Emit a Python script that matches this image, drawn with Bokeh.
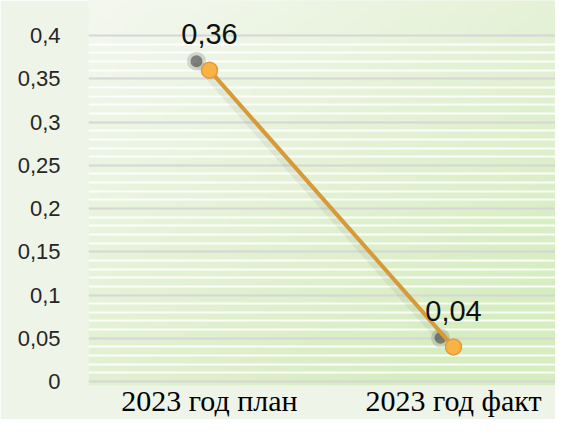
import numpy as np
from bokeh.plotting import figure
from bokeh.models import Range1d, FixedTicker, CustomJSTickFormatter, ColumnDataSource
from bokeh.core.properties import value
from bokeh.embed import file_html
from bokeh.resources import INLINE

# ---- data ----
categories = ["2023 год план", "2023 год факт"]
values = [0.36, 0.04]
y_ticks = [0.0, 0.05, 0.1, 0.15, 0.2, 0.25, 0.3, 0.35, 0.4]

xs = list(range(len(categories)))
labels = [("%g" % v).replace(".", ",") for v in values]
src = ColumnDataSource(dict(x=xs, y=values, lab=labels))

W, H = 555, 419
X0, X1 = -0.4959, 1.418
Y0, Y1 = -0.00464, 0.44058
p = figure(width=W, height=H, output_backend="svg", toolbar_location=None,
           x_range=Range1d(X0, X1), y_range=Range1d(Y0, Y1),
           min_border_left=88, min_border_right=0, min_border_top=0, min_border_bottom=20)
p.outline_line_color = None
p.border_fill_color = "#eef4e8"
p.background_fill_color = "#e8f2de"

# gradient background image over the frame
ny, nx = 60, 80
gx = np.linspace(0, 1, nx)[None, :]
gy = np.linspace(0, 1, ny)[:, None]  # 0 bottom, 1 top
t = np.clip(0.5 * gx + 0.6 * (1 - gy) + 0.05, 0, 1)
c0 = np.array([246, 248, 242])
c1 = np.array([214, 237, 192])
img = np.zeros((ny, nx), dtype=np.uint32)
view = img.view(dtype=np.uint8).reshape((ny, nx, 4))
for k in range(3):
    view[:, :, k] = (c0[k] + (c1[k] - c0[k]) * t).astype(np.uint8)
view[:, :, 3] = 255
p.image_rgba(image=[img], x=X0, y=Y0, dw=X1 - X0, dh=Y1 - Y0, level="image")

# axes
minor = [round(a + k * 0.01, 2) for a in y_ticks[:-1] for k in range(1, 5)]
p.yaxis.ticker = FixedTicker(ticks=y_ticks, minor_ticks=minor)
p.yaxis.formatter = CustomJSTickFormatter(code="""
let s = tick.toFixed(2).replace(/0+$/, '').replace(/\\.$/, '');
return s.replace('.', ',');
""")
p.xaxis.ticker = FixedTicker(ticks=xs)
p.xaxis.major_label_overrides = {i: c for i, c in enumerate(categories)}

for ax in (p.xaxis, p.yaxis):
    ax.axis_line_color = None
    ax.major_tick_line_color = None
    ax.minor_tick_line_color = None

p.yaxis.major_label_text_font = "Liberation Sans"
p.yaxis.major_label_text_font_size = "22px"
p.yaxis.major_label_text_color = "#262626"
p.yaxis.major_label_standoff = 22

p.xaxis.major_label_text_font = "Liberation Serif"
p.xaxis.major_label_text_font_size = "30px"
p.xaxis.major_label_text_color = "#000000"
p.xaxis.major_label_standoff = -8

p.xgrid.grid_line_color = None
p.ygrid.grid_line_color = "#d6d6d6"
p.ygrid.grid_line_width = 2
p.ygrid.minor_grid_line_color = "#ffffff"
p.ygrid.minor_grid_line_width = 2
p.ygrid.minor_grid_line_alpha = 0.9

# soft shadow (same data, ranges shifted a few pixels up-left)
ux = (X1 - X0) / (W - 88)
uy = 1 / 862.5
p.extra_x_ranges = {"sh": Range1d(X0 + 13 * ux, X1 + 13 * ux)}
p.extra_y_ranges = {"sh": Range1d(Y0 - 9 * uy, Y1 - 9 * uy)}
p.line("x", "y", source=src, x_range_name="sh", y_range_name="sh",
       line_color="#606060", line_alpha=0.09, line_width=9)
p.scatter("x", "y", source=src, x_range_name="sh", y_range_name="sh",
          size=19, fill_color="#404040", fill_alpha=0.18, line_color=None)
p.scatter("x", "y", source=src, x_range_name="sh", y_range_name="sh",
          size=12, fill_color="#3a3a3a", fill_alpha=0.55, line_color=None)

# series
p.line("x", "y", source=src, line_color="#d89a38", line_width=4)
p.scatter("x", "y", source=src, size=16, fill_color="#f9b345",
          line_color="#dd9d3c", line_width=1.5)
p.text("x", "y", text="lab", source=src, y_offset=-36,
       text_align="center", text_baseline="middle",
       text_font=value("Liberation Sans"), text_font_size="29px",
       text_color="#111111")

open("out.html", "w").write(file_html(p, INLINE))
